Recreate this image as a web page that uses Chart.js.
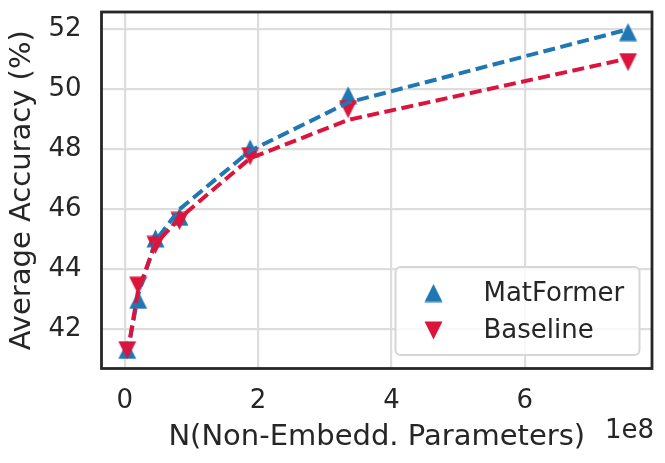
<!DOCTYPE html>
<html>
<head>
<meta charset="utf-8">
<script src="https://cdn.jsdelivr.net/npm/chart.js@4.4.0/dist/chart.umd.min.js"></script>
<style>
  html, body { margin: 0; padding: 0; background: #fff; }
  #wrap { width: 665px; height: 463px; }
</style>
</head>
<body>
<div id="wrap"><canvas id="myChart"></canvas></div>
<script>
// non-embedding parameters, in units of 1e8
const params = [0.036, 0.2, 0.46, 0.82, 1.88, 3.35, 7.55];
const matformer = [41.31, 42.98, 45.03, 45.75, 48.03, 49.80, 51.91];
const baseline = [41.30, 43.45, 44.81, 45.61, 47.77, 49.34, 50.91];
// dashed fitted curves
const matformerFit = [41.15, 43.15, 44.95, 46.0, 47.95, 49.56, 52.0];
const baselineFit = [41.15, 43.3, 44.85, 45.7, 47.7, 48.98, 51.03];
const xTicks = [0, 2, 4, 6];
const yTicks = [42, 44, 46, 48, 50, 52];

const BLUE = '#1f77b4';
const RED = '#dc143c';
const INK = '#262626';

// matplotlib style triangle (width == height), drawn to a small canvas
function triangle(color, down) {
  const s = 19;
  const c = document.createElement('canvas');
  c.width = s; c.height = s;
  const g = c.getContext('2d');
  g.fillStyle = color;
  g.beginPath();
  if (down) {
    g.moveTo(0.5, 0.5); g.lineTo(s - 0.5, 0.5); g.lineTo(s / 2, s - 0.5);
  } else {
    g.moveTo(s / 2, 0.5); g.lineTo(s - 0.5, s - 0.5); g.lineTo(0.5, s - 0.5);
  }
  g.closePath();
  g.fill();
  return c;
}

const pts = (ys) => ys.map((y, i) => ({x: params[i], y: y}));

Chart.defaults.font.family = 'DejaVu Sans';
Chart.defaults.color = INK;

// legend box inside the plot (bottom right) + axes frame + offset text
const boxLegend = {
  id: 'boxLegend',
  afterDatasetsDraw(chart) {
    const {ctx, chartArea} = chart;
    const items = chart.data.datasets.filter(d => d.inLegend);
    const w = 244, h = 88;
    const x0 = chartArea.right - 12.5 - w;
    const y0 = chartArea.bottom - 13.5 - h;
    ctx.save();
    ctx.fillStyle = 'rgba(255,255,255,0.8)';
    ctx.strokeStyle = '#d6d6d6';
    ctx.lineWidth = 2;
    ctx.beginPath();
    ctx.roundRect(x0, y0, w, h, 5);
    ctx.fill();
    ctx.stroke();
    ctx.font = '26px "DejaVu Sans"';
    ctx.fillStyle = INK;
    ctx.textBaseline = 'middle';
    items.forEach((d, i) => {
      const cy = y0 + 26 + i * 37.5;
      const img = d.pointStyle;
      ctx.drawImage(img, x0 + 38 - img.width / 2, cy - img.height / 2);
      ctx.fillText(d.label, x0 + 88, cy + 1);
    });
    ctx.restore();
  },
  afterDraw(chart) {
    const {ctx, chartArea} = chart;
    ctx.save();
    ctx.strokeStyle = INK;
    ctx.lineWidth = 2.8;
    ctx.strokeRect(chartArea.left, chartArea.top, chartArea.right - chartArea.left, chartArea.bottom - chartArea.top);
    ctx.font = '26px "DejaVu Sans"';
    ctx.fillStyle = INK;
    ctx.textAlign = 'right';
    ctx.textBaseline = 'middle';
    ctx.fillText('1e8', chartArea.right + 2, 431);
    ctx.restore();
  }
};

const ctx = document.getElementById('myChart');

new Chart(ctx, {
  type: 'scatter',
  data: {
    datasets: [
      {
        label: 'MatFormer',
        data: pts(matformer),
        pointStyle: triangle(BLUE, false),
        pointRadius: 9,
        pointHoverRadius: 9,
        backgroundColor: BLUE,
        borderColor: BLUE,
        inLegend: true,
        order: 4
      },
      {
        label: 'Baseline',
        data: pts(baseline),
        pointStyle: triangle(RED, true),
        pointRadius: 9,
        pointHoverRadius: 9,
        backgroundColor: RED,
        borderColor: RED,
        inLegend: true,
        order: 3
      },
      {
        label: 'MatFormer fit',
        data: pts(matformerFit),
        showLine: true,
        pointRadius: 0,
        borderColor: BLUE,
        borderWidth: 4,
        borderDash: [12, 5.5],
        order: 2
      },
      {
        label: 'Baseline fit',
        data: pts(baselineFit),
        showLine: true,
        pointRadius: 0,
        borderColor: RED,
        borderWidth: 4,
        borderDash: [12, 5.5],
        order: 1
      }
    ]
  },
  options: {
    responsive: true,
    maintainAspectRatio: false,
    animation: false,
    layout: { autoPadding: false, padding: { top: 12, right: 13, bottom: 0, left: 0 } },
    plugins: {
      legend: { display: false },
      tooltip: { enabled: false }
    },
    scales: {
      x: {
        type: 'linear',
        min: -0.35,
        max: 7.91,
        afterBuildTicks: (s) => { s.ticks = xTicks.map(v => ({value: v})); },
        afterFit: (s) => { s.height = 94.5; s.paddingLeft = 0; s.paddingRight = 0; },
        border: { display: false },
        grid: { color: '#dddddd', lineWidth: 2.2, drawTicks: false },
        ticks: { font: { size: 26 }, padding: 17, maxRotation: 0 },
        title: {
          display: true,
          text: 'N(Non-Embedd. Parameters)',
          font: { size: 29 },
          padding: { top: 0, bottom: 8 }
        }
      },
      y: {
        min: 40.69,
        max: 52.58,
        afterBuildTicks: (s) => { s.ticks = yTicks.map(v => ({value: v})); },
        afterFit: (s) => { s.width = 101.5; s.paddingTop = 0; s.paddingBottom = 0; },
        border: { display: false },
        grid: { color: '#dddddd', lineWidth: 2.2, drawTicks: false },
        ticks: { font: { size: 26 }, padding: 20 },
        title: {
          display: true,
          text: 'Average Accuracy (%)',
          font: { size: 29 },
          padding: { top: 5, bottom: 0 }
        }
      }
    }
  },
  plugins: [boxLegend]
});
</script>
</body>
</html>
